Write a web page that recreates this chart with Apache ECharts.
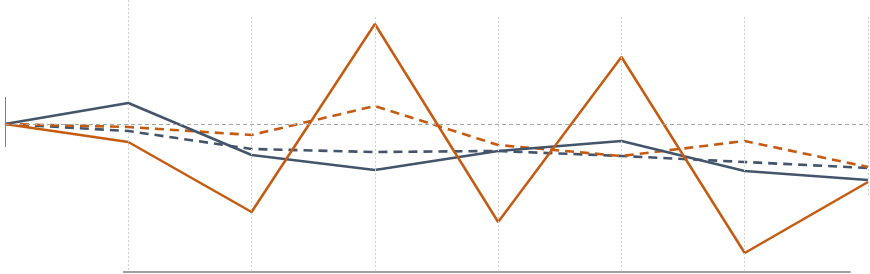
<!DOCTYPE html>
<html>
<head>
<meta charset="utf-8">
<script src="https://cdn.jsdelivr.net/npm/echarts@6/dist/echarts.min.js"></script>
<style>html,body{margin:0;padding:0;background:#fff}#c{width:870px;height:274px}</style>
</head>
<body>
<div id="c"></div>
<script>
const categories = ['P0','P1','P2','P3','P4','P5','P6','P7'];
const navySolid   = [0, 21, -31, -46, -27, -17, -47, -56];
const orangeSolid = [0, -18, -88, 100, -98, 67, -129, -58];
const navyDashed  = [0, -7, -25, -28, -27, -32, -38, -44];
const orangeDashed= [0, -3, -11, 18, -21, -32, -17, -43];
// vertical guide lines: [categoryIndex, top value, bottom value]
const guides = [[1,124,-146],[2,107,-146],[3,107,-146],[4,107,-146],[5,107,-146],[6,107,-146],[7,107,-73]];
const leftTick = [0, 27, -23];
const baseLine = [0.957, 6.86, -148];

const NAVY = '#44546a', ORANGE = '#c55a11';
const pts = arr => arr.map((v,i)=>[i,v]);

const chart = echarts.init(document.getElementById('c'));
chart.setOption({
  animation:false,
  grid:{left:5,right:2,top:0,bottom:0},
  xAxis:{type:'value',min:0,max:categories.length-1,show:false},
  yAxis:{type:'value',min:-150,max:124,show:false},
  series:[
    {type:'line',data:[],silent:true,
     markLine:{symbol:'none',silent:true,label:{show:false},
      data:[
        ...guides.map(g=>[{coord:[g[0],g[1]],lineStyle:{color:'#cfcfcf',width:1,type:[2,2]}},{coord:[g[0],g[2]]}]),
        [{coord:[0,0],lineStyle:{color:'#a6a6a6',width:1,type:[4,3]}},{coord:[7,0]}],
        [{coord:[leftTick[0],leftTick[1]],lineStyle:{color:'#808080',width:1,type:'solid'}},{coord:[leftTick[0],leftTick[2]]}],
        [{coord:[baseLine[0],baseLine[2]],lineStyle:{color:'#a0a0a0',width:2,type:'solid'}},{coord:[baseLine[1],baseLine[2]]}]
      ]}},
    {type:'line',data:pts(navyDashed),symbol:'none',lineStyle:{color:NAVY,width:2.6,type:[9,6]}},
    {type:'line',data:pts(orangeDashed),symbol:'none',lineStyle:{color:ORANGE,width:2.6,type:[9,6]}},
    {type:'line',data:pts(navySolid),symbol:'none',lineStyle:{color:NAVY,width:2.5}},
    {type:'line',data:pts(orangeSolid),symbol:'none',lineStyle:{color:ORANGE,width:2.5}}
  ]
});
</script>
</body>
</html>
